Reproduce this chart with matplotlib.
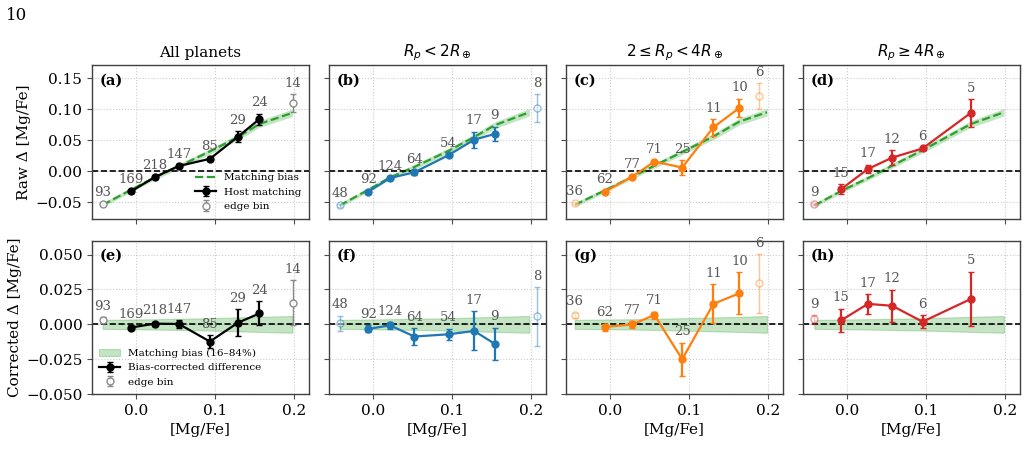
import matplotlib
matplotlib.use("Agg")
import matplotlib.pyplot as plt

plt.rcParams['font.family'] = ['DejaVu Serif']
plt.rcParams['mathtext.fontset'] = 'dejavusans'

# panel (a) all planets
x_a = [-0.0068, 0.0233, 0.054, 0.0934, 0.129, 0.156]
n_a = [169, 218, 147, 85, 29, 24]
raw_a = [-0.0325, -0.0097, 0.0086, 0.020, 0.0557, 0.0838]
raw_err_a = [0.002, 0.0015, 0.002, 0.003, 0.009, 0.009]
corr_a = [-0.0023, 0.0005, 0.0003, -0.0123, 0.0012, 0.0078]
corr_err_a = [0.002, 0.0015, 0.003, 0.0044, 0.0098, 0.0086]
edge_x_a = [-0.0424, 0.199]
edge_n_a = [93, 14]
edge_raw_a = [-0.0526, 0.110]
edge_raw_err_a = [0.0015, 0.014]
edge_corr_a = [0.0031, 0.0156]
edge_corr_err_a = [0.002, 0.016]
bias_x_a = [-0.0424, -0.0068, 0.0233, 0.054, 0.0934, 0.129, 0.156, 0.198]
bias_a = [-0.054, -0.030, -0.010, 0.008, 0.032, 0.055, 0.076, 0.094]
band_a = [0.0032, 0.0035, 0.0037, 0.0040, 0.0044, 0.0050, 0.0054, 0.0060]

# panel (b) Rp < 2
x_b = [-0.0064, 0.0213, 0.0523, 0.0957, 0.128, 0.154]
n_b = [92, 124, 64, 54, 17, 9]
raw_b = [-0.0331, -0.0109, -0.0016, 0.026, 0.0508, 0.060]
raw_err_b = [0.002, 0.0015, 0.004, 0.002, 0.013, 0.012]
corr_b = [-0.0033, -0.0007, -0.0087, -0.0071, -0.0047, -0.0139]
corr_err_b = [0.0025, 0.0025, 0.0058, 0.0041, 0.014, 0.0116]
edge_x_b = [-0.0425, 0.208]
edge_n_b = [48, 8]
edge_raw_b = [-0.0547, 0.102]
edge_raw_err_b = [0.002, 0.022]
edge_corr_b = [0.0007, 0.0057]
edge_corr_err_b = [0.0056, 0.021]
bias_x_b = [-0.0425, -0.0064, 0.0213, 0.0523, 0.0957, 0.128, 0.154, 0.198]
bias_b = [-0.055, -0.030, -0.010, 0.007, 0.033, 0.055, 0.074, 0.095]
band_b = [0.0032, 0.0035, 0.0037, 0.0040, 0.0044, 0.0050, 0.0054, 0.0060]

# panel (c) 2 <= Rp < 4
x_c = [-0.007, 0.028, 0.0563, 0.0914, 0.131, 0.164]
n_c = [62, 77, 71, 25, 11, 10]
raw_c = [-0.033, -0.0087, 0.0156, 0.006, 0.0708, 0.102]
raw_err_c = [0.002, 0.002, 0.003, 0.012, 0.0135, 0.015]
corr_c = [-0.0019, 0.0, 0.0067, -0.025, 0.0147, 0.0223]
corr_err_c = [0.0025, 0.0025, 0.0025, 0.012, 0.014, 0.015]
edge_x_c = [-0.0447, 0.189]
edge_n_c = [36, 6]
edge_raw_c = [-0.051, 0.121]
edge_raw_err_c = [0.0015, 0.021]
edge_corr_c = [0.0064, 0.0294]
edge_corr_err_c = [0.002, 0.021]
bias_x_c = [-0.0447, -0.007, 0.028, 0.0563, 0.0914, 0.131, 0.164, 0.199]
bias_c = [-0.054, -0.031, -0.009, 0.009, 0.031, 0.056, 0.080, 0.095]
band_c = [0.0032, 0.0035, 0.0037, 0.0040, 0.0044, 0.0050, 0.0054, 0.0060]

# panel (d) Rp >= 4
x_d = [-0.0073, 0.0265, 0.0573, 0.0958, 0.157]
n_d = [15, 17, 12, 6, 5]
raw_d = [-0.0287, 0.0037, 0.022, 0.0367, 0.094]
raw_err_d = [0.008, 0.007, 0.012, 0.002, 0.022]
corr_d = [0.0029, 0.0147, 0.0133, 0.0019, 0.0182]
corr_err_d = [0.0084, 0.0071, 0.0116, 0.0046, 0.0196]
edge_x_d = [-0.0414]
edge_n_d = [9]
edge_raw_d = [-0.0526]
edge_raw_err_d = [0.002]
edge_corr_d = [0.0036]
edge_corr_err_d = [0.003]
bias_x_d = [-0.0414, -0.0073, 0.0265, 0.0573, 0.0958, 0.157, 0.199]
bias_d = [-0.055, -0.0316, -0.011, 0.009, 0.034, 0.076, 0.095]
band_d = [0.0032, 0.0035, 0.0037, 0.0040, 0.0044, 0.0054, 0.0060]

titles = ["All planets", r"$R_p < 2R_\oplus$", r"$2 \leq R_p < 4R_\oplus$", r"$R_p \geq 4R_\oplus$"]
colors = ["black", "#1f77b4", "#ff7f0e", "#d62728"]
top_tags = ["(a)", "(b)", "(c)", "(d)"]
bot_tags = ["(e)", "(f)", "(g)", "(h)"]

panels = [
    (x_a, n_a, raw_a, raw_err_a, corr_a, corr_err_a, edge_x_a, edge_n_a, edge_raw_a, edge_raw_err_a,
     edge_corr_a, edge_corr_err_a, bias_x_a, bias_a, band_a),
    (x_b, n_b, raw_b, raw_err_b, corr_b, corr_err_b, edge_x_b, edge_n_b, edge_raw_b, edge_raw_err_b,
     edge_corr_b, edge_corr_err_b, bias_x_b, bias_b, band_b),
    (x_c, n_c, raw_c, raw_err_c, corr_c, corr_err_c, edge_x_c, edge_n_c, edge_raw_c, edge_raw_err_c,
     edge_corr_c, edge_corr_err_c, bias_x_c, bias_c, band_c),
    (x_d, n_d, raw_d, raw_err_d, corr_d, corr_err_d, edge_x_d, edge_n_d, edge_raw_d, edge_raw_err_d,
     edge_corr_d, edge_corr_err_d, bias_x_d, bias_d, band_d),
]

green = "#2ca02c"
label_col = "#555555"

fig, axes = plt.subplots(2, 4, figsize=(10.28, 4.61), dpi=100, sharex=True, sharey='row')
fig.subplots_adjust(left=0.0895, right=0.992, top=0.859, bottom=0.145, wspace=0.092, hspace=0.144)


def put_counts(ax, xs, ys, errs, ns):
    # sample size written just above each error bar
    for xx, yy, ee, nn in zip(xs, ys, errs, ns):
        ax.annotate(str(nn), (xx, yy + ee), xytext=(0, 3), textcoords="offset points",
                    ha="center", va="bottom", fontsize=9.5, color=label_col)


for i, p in enumerate(panels):
    (x, n, raw, raw_err, corr, corr_err, ex, en, eraw, eraw_err,
     ecorr, ecorr_err, bx, bias, band) = p
    col = colors[i]
    ecol = "0.5" if i == 0 else col
    ealpha = 0.9 if i == 0 else 0.45

    # top row - raw difference
    ax = axes[0, i]
    lo = [b - w for b, w in zip(bias, band)]
    hi = [b + w for b, w in zip(bias, band)]
    ax.fill_between(bx, lo, hi, color=green, alpha=0.28, lw=0)
    ax.plot(bx, bias, "--", color=green, lw=1.6, label="Matching bias")
    ax.axhline(0, color="black", ls="--", lw=1.2)
    ax.errorbar(x, raw, yerr=raw_err, fmt="-o", color=col, ms=5, lw=1.6, capsize=2.5,
                label="Host matching")
    ax.errorbar(ex, eraw, yerr=eraw_err, fmt="o", mfc="white", color=ecol, alpha=ealpha,
                ms=5, lw=1.0, capsize=2.5, label="edge bin")
    put_counts(ax, x, raw, raw_err, n)
    put_counts(ax, ex, eraw, eraw_err, en)
    ax.set_title(titles[i], fontsize=11)
    ax.text(0.035, 0.9, top_tags[i], transform=ax.transAxes, fontweight="bold",
            fontsize=10.5, va="center")

    # bottom row - corrected difference
    ax2 = axes[1, i]
    blo = [-w for w in band]
    ax2.fill_between(bx, blo, band, color=green, alpha=0.28, lw=0.8, edgecolor=green,
                     label="Matching bias (16\u201384%)")
    ax2.axhline(0, color="black", ls="--", lw=1.2)
    ax2.errorbar(x, corr, yerr=corr_err, fmt="-o", color=col, ms=5, lw=1.6, capsize=2.5,
                 label="Bias-corrected difference")
    ax2.errorbar(ex, ecorr, yerr=ecorr_err, fmt="o", mfc="white", color=ecol, alpha=ealpha,
                 ms=5, lw=1.0, capsize=2.5, label="edge bin")
    put_counts(ax2, x, corr, corr_err, n)
    put_counts(ax2, ex, ecorr, ecorr_err, en)
    ax2.text(0.035, 0.9, bot_tags[i], transform=ax2.transAxes, fontweight="bold",
             fontsize=10.5, va="center")
    ax2.set_xlabel("[Mg/Fe]", fontsize=11)

for ax in axes.flat:
    ax.grid(True, ls=":", color="0.8", lw=0.8)
    ax.set_axisbelow(True)
    ax.tick_params(labelsize=11, length=3.5, color="0.3")
    for s in ax.spines.values():
        s.set_color("0.25")
        s.set_linewidth(1.0)

axes[0, 0].set_xlim(-0.056, 0.219)
axes[0, 0].set_xticks([0.0, 0.1, 0.2])
axes[0, 0].set_ylim(-0.076, 0.171)
axes[0, 0].set_yticks([-0.05, 0.0, 0.05, 0.10, 0.15])
axes[1, 0].set_ylim(-0.05, 0.06)
axes[1, 0].set_yticks([-0.05, -0.025, 0.0, 0.025, 0.05])
axes[0, 0].set_ylabel("Raw \u0394 [Mg/Fe]", fontsize=11, labelpad=3)
axes[1, 0].set_ylabel("Corrected \u0394 [Mg/Fe]", fontsize=11, labelpad=3)

axes[0, 0].legend(loc="lower right", fontsize=7.5, frameon=False, handlelength=2.0,
                  borderaxespad=0.3)
axes[1, 0].legend(loc="lower left", fontsize=7.5, frameon=False, handlelength=2.0,
                  borderaxespad=0.3)

fig.text(0.006, 0.985, "10", fontsize=12, va="top", ha="left")

plt.savefig("out.png", dpi=100)
